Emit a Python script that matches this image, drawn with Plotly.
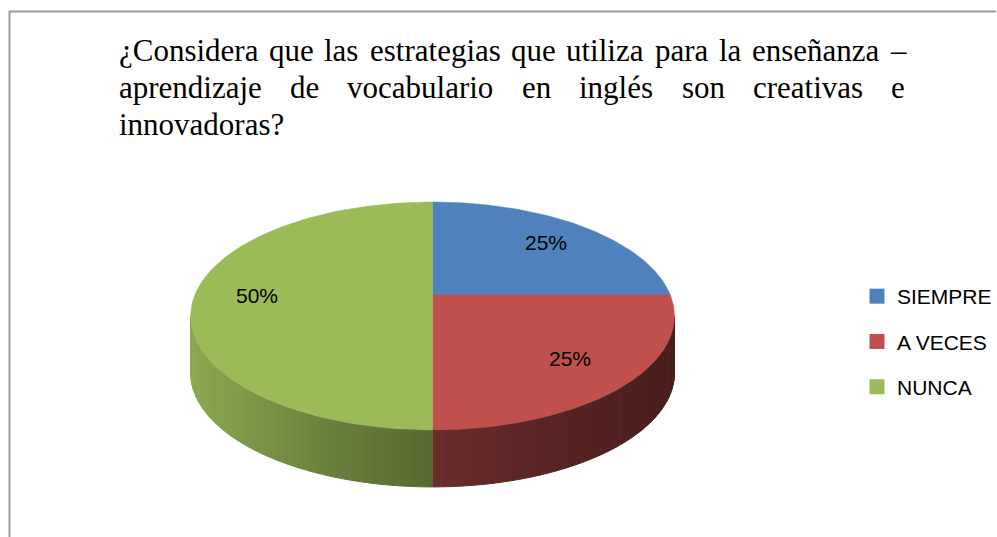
import numpy as np
import plotly.graph_objects as go

# ---------------- data ----------------
categories = ["SIEMPRE", "A VECES", "NUNCA"]
values = [25, 25, 50]
percent_labels = ["25%", "25%", "50%"]
colors = ["#4F81BD", "#C0504D", "#9BBB59"]

title_line1 = "¿Considera que las estrategias que utiliza para la enseñanza –"
title_line2 = "aprendizaje de vocabulario en inglés son creativas e"
title_line3 = "innovadoras?"

# ---------------- geometry (pixel space) ----------------
W, H = 997, 537
CX, CY = 433.0, 295.0      # projected pie centre
A, B, K = 238.0, 110.1, 0.184   # perspective projection parameters
DEPTH = 57.0
LABEL_R = 0.74


def proj(theta_deg, r=1.0):
    t = np.radians(theta_deg)
    u = r * np.cos(t)
    v = r * np.sin(t)
    w = 1 + K * v
    return CX + A * u / w, CY - B * v / w


def hex2rgb(h):
    h = h.lstrip("#")
    return tuple(int(h[i:i + 2], 16) for i in (0, 2, 4))


def shade(hexcol, x):
    s = (x - CX) / A
    f = 0.565 - 0.255 * s + 0.08 * s * s
    r, g, b = hex2rgb(hexcol)
    return "rgb(%d,%d,%d)" % (r * f, g * f, b * f)


# silhouette extremes (visible side range)
grid = np.linspace(-270, 90, 3601)
xs_grid = np.array([proj(a)[0] for a in grid])
theta_left = grid[np.argmin(xs_grid)]
theta_right = grid[np.argmax(xs_grid)]
if theta_right > 0:
    theta_right -= 360

total = float(sum(values))
fr = np.cumsum([0] + values) / total
starts = 90 - 360 * fr[:-1]
ends = 90 - 360 * fr[1:]

fig = go.Figure()

# ---- sides (drawn first) ----
for i in range(len(values)):
    hi = min(starts[i], theta_right)
    lo = max(ends[i], theta_left)
    if hi <= lo:
        continue
    n = 40
    edges = np.linspace(hi, lo, n + 1)
    for j in range(n):
        a1, a2 = edges[j], edges[j + 1]
        sub = np.linspace(a1, a2, 4)
        top = [proj(a) for a in sub]
        xs = [p[0] for p in top] + [p[0] for p in top[::-1]] + [top[0][0]]
        ys = [p[1] for p in top] + [p[1] + DEPTH for p in top[::-1]] + [top[0][1]]
        xm = proj((a1 + a2) / 2)[0]
        col = shade(colors[i], xm)
        fig.add_trace(go.Scatter(
            x=xs, y=ys, mode="lines", fill="toself", fillcolor=col,
            line=dict(color=col, width=1), hoverinfo="skip", showlegend=False))

# ---- top faces ----
for i in range(len(values)):
    arc = np.linspace(starts[i], ends[i], 120)
    pts = [proj(a) for a in arc]
    xs = [CX] + [p[0] for p in pts] + [CX]
    ys = [CY] + [p[1] for p in pts] + [CY]
    fig.add_trace(go.Scatter(
        x=xs, y=ys, mode="lines", fill="toself", fillcolor=colors[i],
        line=dict(color=colors[i], width=0.5), name=categories[i],
        hoverinfo="name", showlegend=False))

# ---- labels ----
for i in range(len(values)):
    mid = (starts[i] + ends[i]) / 2
    lx, ly = proj(mid, LABEL_R)
    fig.add_annotation(x=lx, y=ly, text=percent_labels[i], showarrow=False,
                       xanchor="center", yanchor="middle",
                       font=dict(family="Liberation Sans", size=21, color="black"))

# ---- legend entries ----
for i in range(len(values)):
    fig.add_trace(go.Scatter(
        x=[None], y=[None], mode="markers", name=categories[i],
        marker=dict(symbol="square", size=15, color=colors[i]),
        legendgroup=categories[i], showlegend=True))

# ---- title (justified, Times metrics) ----
TIMES = {"a": 444, "b": 500, "c": 444, "d": 500, "e": 444, "f": 333, "g": 500,
         "h": 500, "i": 278, "j": 278, "k": 500, "l": 278, "m": 778, "n": 500,
         "o": 500, "p": 500, "q": 500, "r": 333, "s": 389, "t": 278, "u": 500,
         "v": 500, "w": 722, "x": 500, "y": 500, "z": 444, "C": 667, "¿": 444,
         "?": 444, "ñ": 500, "é": 444, "–": 500}
TFS = 31
tfont = dict(family="Liberation Serif", size=TFS, color="black")
X0, X1 = 117, 904


def word_w(w):
    return sum(TIMES.get(ch, 500) for ch in w) * TFS / 1000.0


def add_justified(line, y):
    words = line.split(" ")
    widths = [word_w(w) for w in words]
    gap = (X1 - X0 - sum(widths)) / (len(words) - 1)
    x = X0
    for w, wd in zip(words, widths):
        fig.add_annotation(x=x, y=y, text=w, showarrow=False,
                           xanchor="left", yanchor="middle", font=tfont)
        x += wd + gap


add_justified(title_line1, 50)
add_justified(title_line2, 87)
fig.add_annotation(x=X0, y=124, text=title_line3, showarrow=False,
                   xanchor="left", yanchor="middle", font=tfont)

# ---- frame ----
fig.add_shape(type="path", path="M 9.5 537 L 9.5 11.5 L 997 11.5",
              xref="x", yref="y", line=dict(color="#9a9a9a", width=2))

fig.update_layout(
    width=W, height=H,
    margin=dict(l=0, r=0, t=0, b=0),
    paper_bgcolor="white", plot_bgcolor="white",
    xaxis=dict(range=[0, W], visible=False, fixedrange=True),
    yaxis=dict(range=[H, 0], visible=False, fixedrange=True),
    showlegend=True,
    legend=dict(x=858 / W, y=1 - 276 / H, xanchor="left", yanchor="top",
                font=dict(family="Liberation Sans", size=21, color="black"),
                tracegroupgap=15, itemclick=False, itemdoubleclick=False,
                bgcolor="rgba(0,0,0,0)"),
)

fig.write_html("out.html", config={"displayModeBar": False},
               post_script="document.body.style.margin='0';document.body.style.overflow='hidden';")
